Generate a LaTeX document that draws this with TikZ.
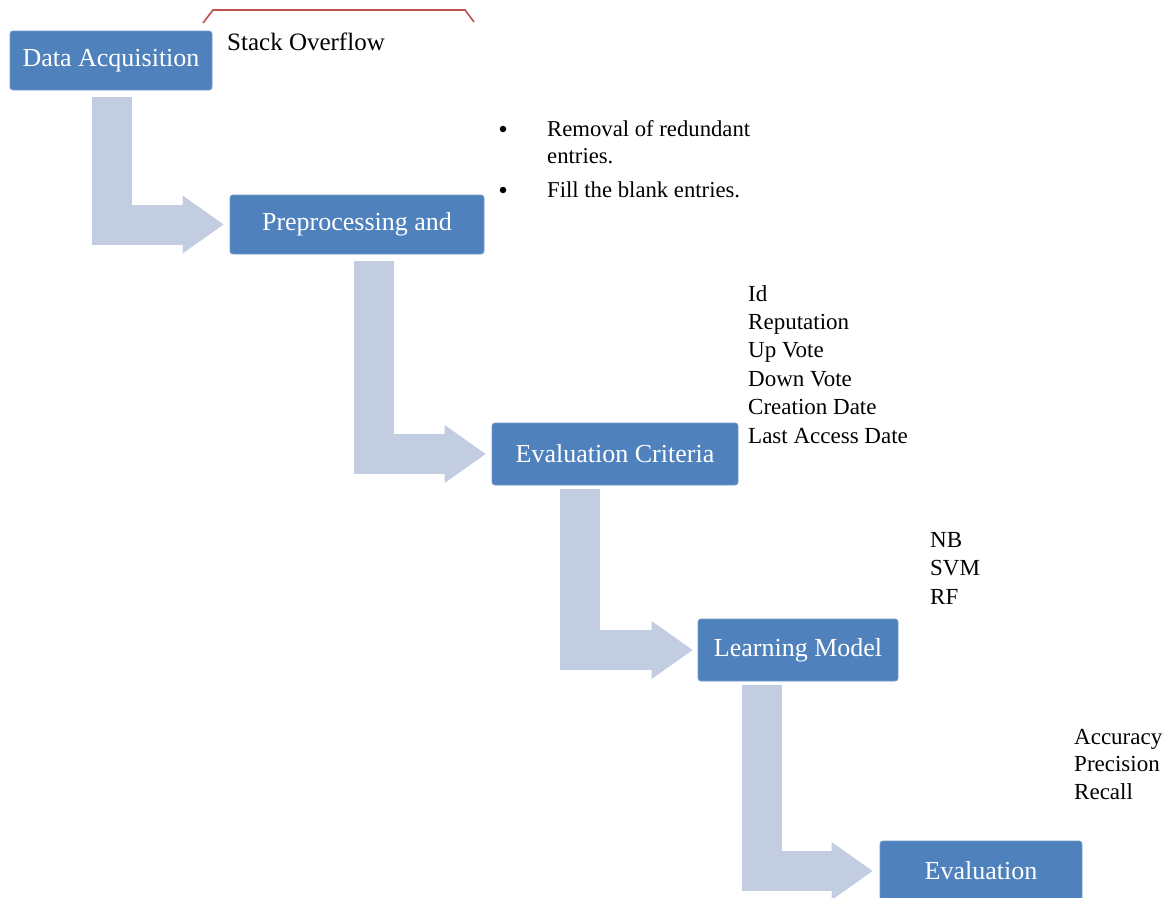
\documentclass[tikz,border=0pt]{standalone}
\usepackage{fontspec}
\setmainfont{Liberation Serif}
\usetikzlibrary{arrows.meta,calc}
\definecolor{boxblue}{HTML}{4F81BD}
\definecolor{arrowgray}{HTML}{C3CDE2}
\definecolor{bracketred}{HTML}{C0504D}
\begin{document}
\begin{tikzpicture}[x=1pt,y=-1pt,
  stepbox/.style={fill=boxblue, draw=boxblue!80!white, line width=0.8pt, rounded corners=3pt,
    text=white, font=\fontsize{26}{31}\selectfont, inner sep=0pt},
  bent/.style={draw=arrowgray, line width=40pt, line join=miter,
    -{Triangle[length=41pt,width=58pt,line width=0pt,fill=arrowgray]}},
  lbl/.style={anchor=north west, inner sep=0pt, align=left, font=\fontsize{23}{28.4}\selectfont},
  txt/.style={anchor=base west, inner sep=0pt, font=\fontsize{22.7}{27}\selectfont},
  bulletdot/.style={circle, fill=black, inner sep=0pt, minimum size=6.5pt}]
\useasboundingbox (0,0) rectangle (1170,897);
\clip (0,0) rectangle (1170,897);

% process boxes
\node[stepbox, minimum width=202pt, minimum height=59pt] (acq)  at (111,60.5) {Data Acquisition};
\node[stepbox, minimum width=254pt, minimum height=59pt] (pre)  at (357,224.5) {Preprocessing and};
\node[stepbox, minimum width=246pt, minimum height=62pt] (crit) at (615,454) {Evaluation Criteria};
\node[stepbox, minimum width=200pt, minimum height=62pt] (lm)   at (798,650) {Learning Model};
\node[stepbox, minimum width=202pt, minimum height=60pt] (ev)   at (981,871) {Evaluation};

% bent arrows
\path let \p1=(acq.south), \p2=(pre.west) in coordinate (a1) at (\x2-118pt,\y1-7pt);
\draw[bent] (a1) |- ([xshift=-6pt]pre.west);
\path let \p1=(pre.south), \p2=(crit.west) in coordinate (a2) at (\x2-118pt,\y1-7pt);
\draw[bent] (a2) |- ([xshift=-6pt]crit.west);
\path let \p1=(crit.south), \p2=(lm.west) in coordinate (a3) at (\x2-118pt,\y1-4pt);
\draw[bent] (a3) |- ([xshift=-5pt]lm.west);
\path let \p1=(lm.south), \p2=(ev.west) in coordinate (a4) at (\x2-118pt,\y1-4pt);
\draw[bent] (a4) |- ([xshift=-7pt]ev.west);

% callout bracket and source label
\draw[bracketred, line width=1.6pt] (203,23) -- (213,10) -- (465,10) -- (474,22);
\node[anchor=base west, inner sep=0pt, font=\fontsize{25}{30}\selectfont] (so) at (227,50) {Stack Overflow};

% preprocessing bullets
\node[bulletdot] (bu1) at (503,129) {};
\node[txt] (pt1) at (547,136) {Removal of redundant};
\node[txt] (pt1b) at (547,163) {entries.};
\node[bulletdot] (bu2) at (503,190) {};
\node[txt] (pt2) at (547,197) {Fill the blank entries.};

% lists
\node[lbl] (attrs) at (748,285) {Id\\Reputation\\Up Vote\\Down Vote\\Creation Date\\Last Access Date};
\node[lbl] (models) at (930,532) {NB\\SVM\\RF};
\node[lbl, font=\fontsize{23}{27.5}\selectfont] (metrics) at (1074,729) {Accuracy\\Precision\\Recall};
\end{tikzpicture}
\end{document}
